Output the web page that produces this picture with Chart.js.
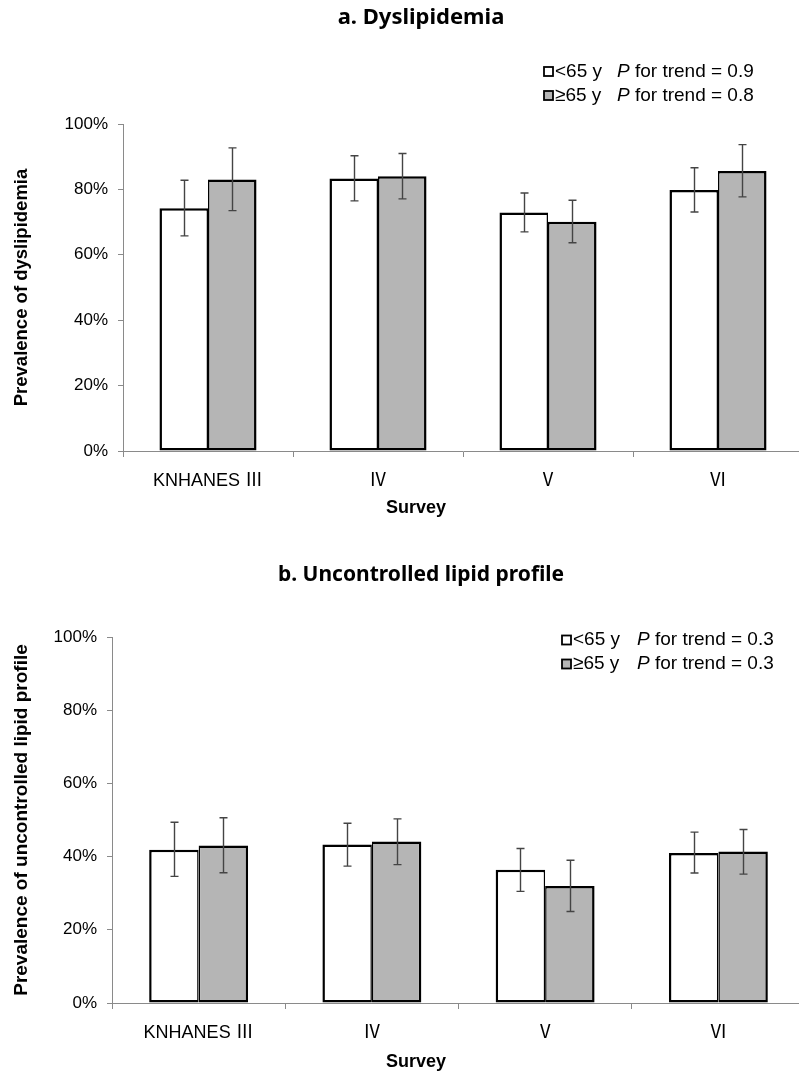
<!DOCTYPE html>
<html>
<head>
<meta charset="utf-8">
<script src="https://cdn.jsdelivr.net/npm/chart.js@4.4.1/dist/chart.umd.min.js"></script>
<style>
    html, body { margin: 0; padding: 0; background: #fff; overflow: hidden; width: 799px; height: 1074px; }
    .box { position: absolute; left: 0; }
</style>
</head>
<body>
<div class="box" style="top:0; width:805px; height:540px;"><canvas id="dysChart" width="805" height="540"></canvas></div>
<div class="box" style="top:540px; width:805px; height:534px;"><canvas id="lipidChart" width="805" height="534"></canvas></div>
<script>
// survey rounds
var categories = ['KNHANES \u2162', '\u2163', '\u2164', '\u2165'];
var yTicks = [0, 20, 40, 60, 80, 100];

// a. dyslipidemia (%)
var dysUnder65 = [74.2, 83.3, 72.9, 79.8];
var dysUnder65Lo = [65.8, 76.5, 67.0, 73.1];
var dysUnder65Hi = [82.8, 90.3, 78.9, 86.6];
var dysOver65 = [83.0, 84.0, 70.1, 85.6];
var dysOver65Lo = [73.5, 77.1, 63.7, 77.7];
var dysOver65Hi = [92.7, 91.0, 76.7, 93.7];

// b. uncontrolled lipid profile (%)
var lipUnder65 = [41.9, 43.3, 36.4, 41.0];
var lipUnder65Lo = [34.6, 37.4, 30.5, 35.5];
var lipUnder65Hi = [49.4, 49.1, 42.2, 46.7];
var lipOver65 = [43.0, 44.1, 32.0, 41.4];
var lipOver65Lo = [35.6, 37.8, 25.0, 35.2];
var lipOver65Hi = [50.6, 50.3, 39.0, 47.4];

var groupLabels = ['<65 y', '\u226565 y'];
var dysTrend = ['0.9', '0.8'];
var lipTrend = ['0.3', '0.3'];

var GRAY = '#b5b5b5';
var AXIS = '#8a8a8a';
var SANS = '"Liberation Sans", Arial, "Noto Sans CJK KR", sans-serif';

// error bars drawn from the y scale
var errorBars = {
    id: 'errorBars',
    afterDatasetsDraw: function(chart) {
        var ctx = chart.ctx;
        var yScale = chart.scales.y;
        ctx.save();
        ctx.strokeStyle = '#444';
        ctx.lineWidth = 1.4;
        chart.data.datasets.forEach(function(ds, di) {
            var meta = chart.getDatasetMeta(di);
            meta.data.forEach(function(bar, i) {
                var x = Math.round(bar.x) + 0.5;
                var yLo = yScale.getPixelForValue(ds.errLo[i]);
                var yHi = yScale.getPixelForValue(ds.errHi[i]);
                ctx.beginPath();
                ctx.moveTo(x, yLo); ctx.lineTo(x, yHi);
                ctx.moveTo(x - 4, yLo); ctx.lineTo(x + 4, yLo);
                ctx.moveTo(x - 4, yHi); ctx.lineTo(x + 4, yHi);
                ctx.stroke();
            });
        });
        ctx.restore();
    }
};

// titles, legend and axis titles
var textLayer = {
    id: 'textLayer',
    afterDraw: function(chart) {
        var o = chart.options.plugins.textLayer;
        var ctx = chart.ctx;
        var area = chart.chartArea;
        ctx.save();
        ctx.fillStyle = '#000';
        ctx.textBaseline = 'middle';

        ctx.textAlign = 'center';
        ctx.font = 'bold ' + o.titleSize + 'px "Noto Sans", "Open Sans", sans-serif';
        ctx.fillText(o.title, 421, o.titleY);

        ctx.font = 'bold 18px ' + SANS;
        ctx.fillText('Survey', 416, o.surveyY);

        ctx.save();
        ctx.translate(22, (area.top + area.bottom) / 2);
        ctx.rotate(-Math.PI / 2);
        ctx.font = 'bold ' + o.yTitleSize + 'px ' + SANS;
        ctx.fillText(o.yTitle, 0, 0);
        ctx.restore();

        // legend rows
        ctx.textAlign = 'left';
        o.legendY.forEach(function(ly, i) {
            ctx.fillStyle = i === 0 ? '#fff' : GRAY;
            ctx.fillRect(o.legendX, ly - 4.5, 9, 9);
            ctx.strokeStyle = '#000';
            ctx.lineWidth = 1.8;
            ctx.strokeRect(o.legendX, ly - 4.5, 9, 9);
            ctx.fillStyle = '#000';
            ctx.font = '19px ' + SANS;
            ctx.fillText(groupLabels[i], o.legendX + 11, ly);
            ctx.font = 'italic 19px ' + SANS;
            ctx.fillText('P', o.pX, ly);
            var w = ctx.measureText('P').width;
            ctx.font = '19px ' + SANS;
            ctx.fillText(' for trend = ' + o.trend[i], o.pX + w, ly);
        });
        ctx.restore();
    }
};

function makeChart(id, under, underLo, underHi, over, overLo, overHi, geo, text) {
    var ctx = document.getElementById(id).getContext('2d');
    return new Chart(ctx, {
        type: 'bar',
        data: {
            labels: categories,
            datasets: [{
                label: groupLabels[0],
                data: under,
                errLo: underLo,
                errHi: underHi,
                backgroundColor: '#fff',
                borderColor: '#000',
                borderWidth: { top: 2.5, left: 2.5, right: 1.5, bottom: 2.5 },
                borderSkipped: false
            }, {
                label: groupLabels[1],
                data: over,
                errLo: overLo,
                errHi: overHi,
                backgroundColor: GRAY,
                borderColor: '#000',
                borderWidth: { top: 2.5, left: 1.5, right: 2.5, bottom: 2.5 },
                borderSkipped: false
            }]
        },
        options: {
            responsive: false,
            animation: false,
            events: [],
            layout: { padding: { top: geo.top, right: geo.right, bottom: 0, left: 0 } },
            datasets: { bar: { categoryPercentage: 0.571, barPercentage: 1.0 } },
            scales: {
                x: {
                    afterFit: function(s) { s.height = geo.xHeight; },
                    grid: { display: true, drawOnChartArea: false, offset: true, tickLength: 6, color: AXIS },
                    border: { color: AXIS, width: 1 },
                    ticks: { color: '#000', padding: 13, font: { family: SANS, size: 18 } }
                },
                y: {
                    min: 0,
                    max: 100,
                    afterFit: function(s) { s.width = geo.left; },
                    afterBuildTicks: function(s) { s.ticks = yTicks.map(function(v) { return { value: v }; }); },
                    grid: { display: true, drawOnChartArea: false, tickLength: 5, color: AXIS },
                    border: { color: AXIS, width: 1 },
                    ticks: {
                        color: '#000',
                        padding: 10,
                        font: { family: SANS, size: 17 },
                        callback: function(v) { return v + '%'; }
                    }
                }
            },
            plugins: {
                legend: { display: false },
                tooltip: { enabled: false },
                textLayer: text
            }
        },
        plugins: [errorBars, textLayer]
    });
}

makeChart('dysChart', dysUnder65, dysUnder65Lo, dysUnder65Hi, dysOver65, dysOver65Lo, dysOver65Hi,
    { top: 124, right: 2, left: 123, xHeight: 89 },
    { title: 'a. Dyslipidemia', titleSize: 22, titleY: 18, surveyY: 508, yTitle: 'Prevalence of dyslipidemia', yTitleSize: 18.5,
      legendX: 544, pX: 617, legendY: [71.5, 95.5], trend: dysTrend });

makeChart('lipidChart', lipUnder65, lipUnder65Lo, lipUnder65Hi, lipOver65, lipOver65Lo, lipOver65Hi,
    { top: 97, right: 0, left: 112, xHeight: 71 },
    { title: 'b. Uncontrolled lipid profile', titleSize: 21, titleY: 35, surveyY: 522, yTitle: 'Prevalence of uncontrolled lipid profile', yTitleSize: 19,
      legendX: 562, pX: 637, legendY: [100, 124], trend: lipTrend });
</script>
</body>
</html>
